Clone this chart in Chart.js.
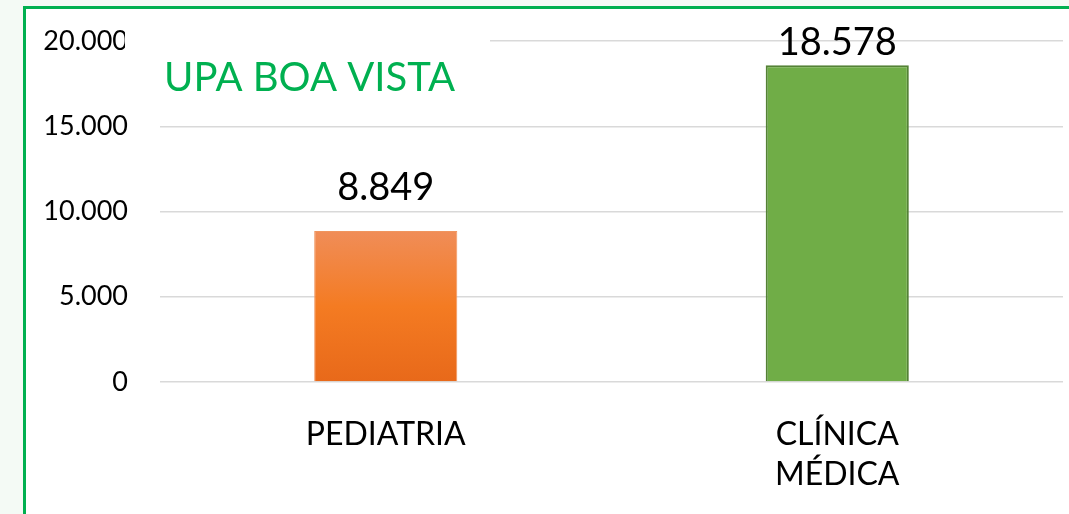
<!DOCTYPE html>
<html>
<head>
<meta charset="utf-8">
<script src="https://cdn.jsdelivr.net/npm/chart.js@4.4.0/dist/chart.umd.min.js"></script>
<style>
  html, body { margin: 0; padding: 0; background: #fff; }
  #wrap { position: relative; width: 1069px; height: 514px; overflow: hidden; background: #f4faf5; }
  #box { position: absolute; left: 23px; top: 6px; width: 1060px; height: 520px; background: #fff; border-left: 3px solid #00b050; border-top: 3px solid #00b050; }
  canvas { position: absolute; left: 0; top: 0; }
</style>
</head>
<body>
<div id="wrap">
  <div id="box"></div>
  <canvas id="chart" width="1069" height="514"></canvas>
</div>
<script>
const categories = ["PEDIATRIA", ["CLÍNICA", "MÉDICA"]];
const values = [8849, 18578];
const titleText = "UPA BOA VISTA";
const FONT = "Lato, 'Open Sans', sans-serif";

const fmt = (v) => String(v).replace(/\B(?=(\d{3})+(?!\d))/g, ".");

// plugin: title box over the top grid line, and value labels above bars
const extras = {
  id: "extras",
  afterDatasetsDraw: (chart) => {
    const ctx = chart.ctx;
    ctx.save();
    ctx.fillStyle = "#fff";
    ctx.fillRect(125, 20, 365, 62);
    ctx.fillStyle = "#00b050";
    ctx.font = "40px " + FONT;
    ctx.textAlign = "left";
    ctx.textBaseline = "alphabetic";
    ctx.fillText(titleText, 164, 91);

    const meta = chart.getDatasetMeta(0);
    ctx.fillStyle = "#000";
    ctx.font = "38px " + FONT;
    ctx.textAlign = "center";
    meta.data.forEach((bar, i) => {
      const y = Math.max(bar.y - 31, 55);
      ctx.fillText(fmt(values[i]), bar.x, y);
    });
    ctx.restore();
  },
};

const orangeFill = (c) => {
  const area = c.chart.chartArea;
  if (!area) return "#f47b20";
  const g = c.chart.ctx.createLinearGradient(0, 231, 0, area.bottom);
  g.addColorStop(0, "#f08d58");
  g.addColorStop(0.5, "#f47b22");
  g.addColorStop(1, "#e8691a");
  return g;
};

const myChart = new Chart(document.getElementById("chart"), {
  type: "bar",
  data: {
    labels: categories,
    datasets: [
      {
        data: values,
        backgroundColor: (c) => (c.dataIndex === 0 ? orangeFill(c) : "#70ad47"),
        borderColor: ["#f0955e", "#548235"],
        borderWidth: [1, 2],
        barPercentage: 0.317,
        categoryPercentage: 1,
      },
    ],
  },
  options: {
    responsive: false,
    animation: false,
    devicePixelRatio: 1,
    layout: { padding: { top: 41, right: 6, left: 0, bottom: 0 } },
    plugins: {
      legend: { display: false },
      tooltip: { enabled: false },
      title: { display: false },
    },
    scales: {
      x: {
        grid: { display: false },
        border: { display: false },
        ticks: {
          color: "#000",
          font: { family: FONT, size: 32, lineHeight: 1.24 },
          padding: 25,
          maxRotation: 0,
        },
        afterFit: (scale) => {
          scale.height = 132;
        },
      },
      y: {
        min: 0,
        max: 20000,
        // transparent tick marks push labels left without adding top padding
        grid: { color: "#d9d9d9", lineWidth: 1.5, drawTicks: true, tickLength: 32, tickColor: "transparent" },
        border: { display: false },
        ticks: {
          stepSize: 5000,
          color: "#000",
          font: { family: FONT, size: 27 },
          padding: 0,
          callback: (v) => fmt(v),
        },
        afterFit: (scale) => {
          scale.width = 160;
        },
      },
    },
  },
  plugins: [extras],
});
</script>
</body>
</html>
